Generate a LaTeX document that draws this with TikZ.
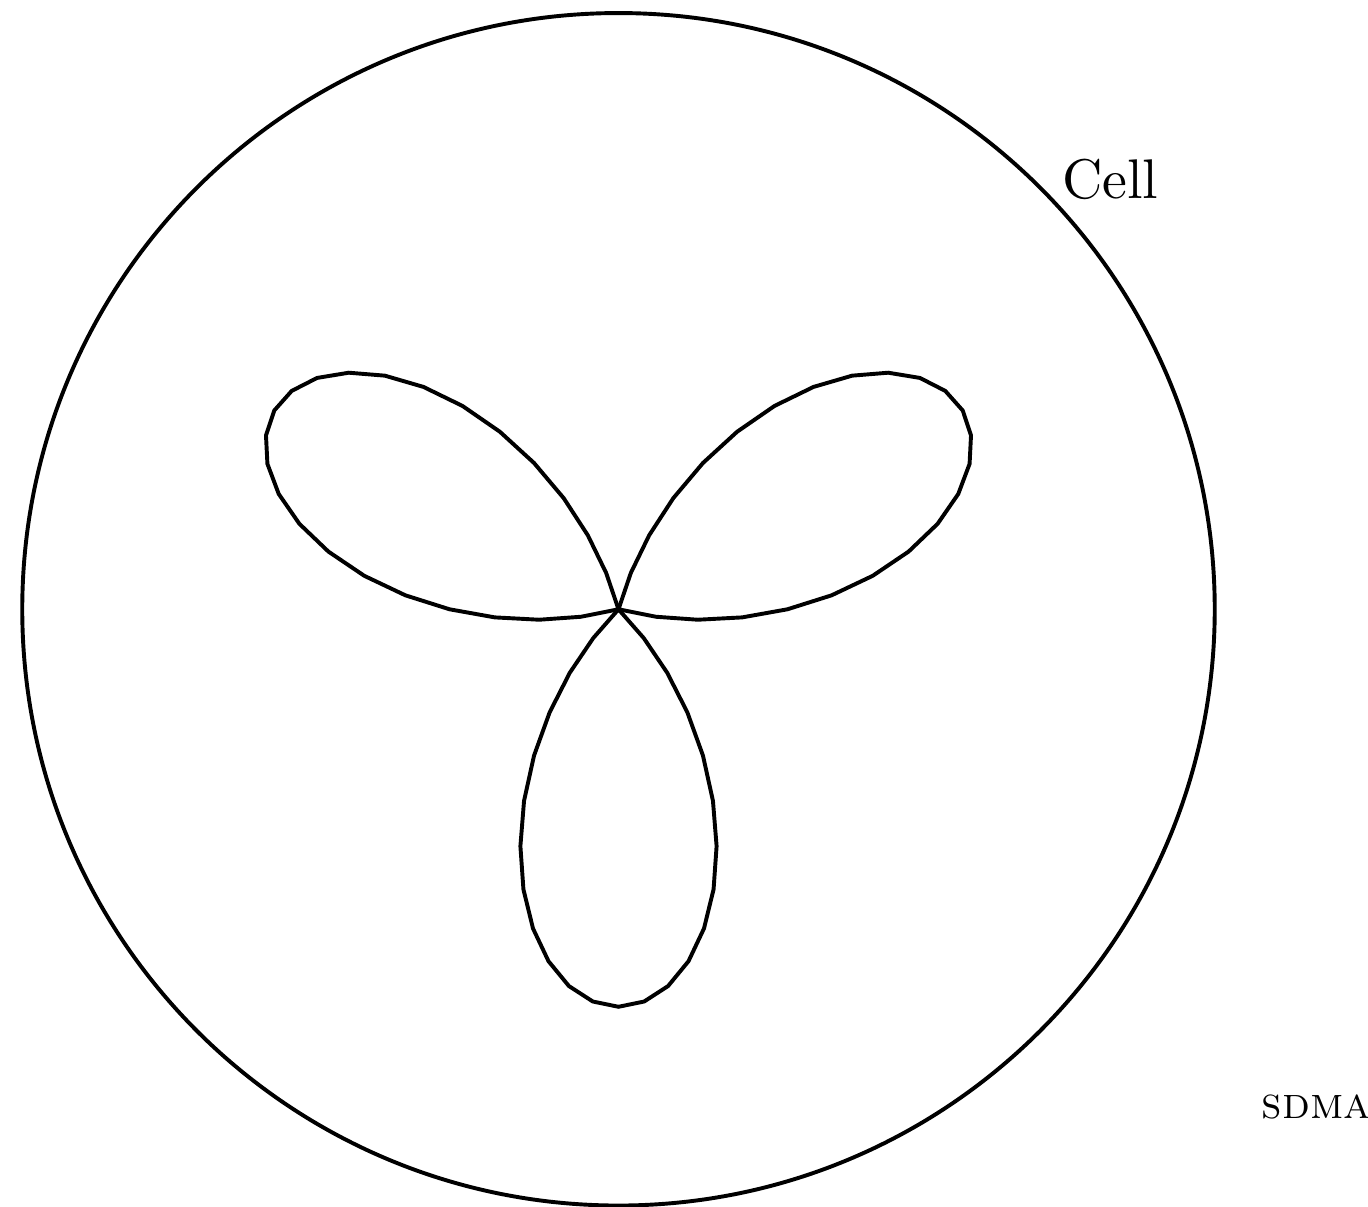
\documentclass[tikz,border=0pt]{standalone}
\usepackage{tikz}
\begin{document}
\begin{tikzpicture}[line width=0.7pt,
  beam/.style={draw=black},
  every node/.style={text=black}]
  \useasboundingbox (-3.890,-3.753) rectangle (4.714,3.832);
  \node[circle, draw, minimum size=7.5cm, inner sep=0pt] (cell) at (0,0) {};
  \node[anchor=mid west] (celllabel) at (cell.45) {Cell};
  % three beams
  \foreach \a in {30,150,270} {
    \draw[beam] plot[domain=-45:45, samples=25]
      ({\a+\x}:{2.5*cos(2*\x)*(0.7+0.3*cos(2*\x))});
  }
  \node[anchor=base, font=\footnotesize] (sdma) at (4.39,-3.2) {\textsc{sdma}};
\end{tikzpicture}
\end{document}
